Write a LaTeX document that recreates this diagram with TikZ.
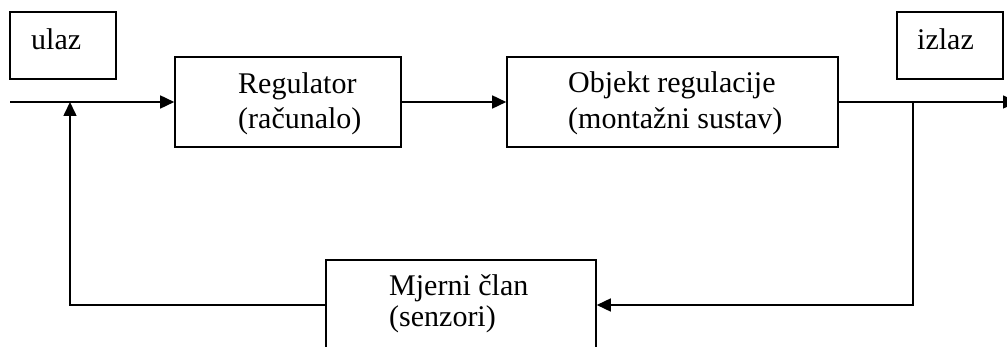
\documentclass[tikz,border=0pt]{standalone}
\usepackage{fontspec}
\setmainfont{Liberation Serif}
\usetikzlibrary{arrows.meta}
\begin{document}
\begin{tikzpicture}[x=1pt,y=-1pt,
  box/.style={draw,line width=1.6pt,inner sep=0pt},
  lbl/.style={anchor=base west,inner sep=0pt,font=\fontsize{30}{35}\selectfont},
  conn/.style={line width=1.6pt},
  tip/.style={-{Triangle[length=14pt,width=13pt]}}]
\useasboundingbox (0,0) rectangle (1007,347);
% boxes
\node[box,minimum width=106pt,minimum height=67pt] (ulaz) at (63,45.5) {};
\node[box,minimum width=106pt,minimum height=67pt] (izlaz) at (950,45.5) {};
\node[box,minimum width=226pt,minimum height=90pt] (reg) at (288,102) {};
\node[box,minimum width=331pt,minimum height=90pt] (obj) at (672.5,102) {};
\node[box,minimum width=270pt,minimum height=120pt] (mj) at (461,320) {};
% texts
\node[lbl] (tulaz) at (31,50) {ulaz};
\node[lbl] (tizlaz) at (917,50) {izlaz};
\node[lbl] (treg1) at (238,94) {Regulator};
\node[lbl] (treg2) at (238,129) {(računalo)};
\node[lbl] (tobj1) at (568,93) {Objekt regulacije};
\node[lbl] (tobj2) at (568,129) {(montažni sustav)};
\node[lbl] (tmj1) at (389,296) {Mjerni član};
\node[lbl] (tmj2) at (389,327) {(senzori)};
% coordinates
\coordinate (in) at (10,102);
\coordinate (sum) at (70,102);
\coordinate (br) at (913,102);
\coordinate (fbr) at (913,305);
\coordinate (outend) at (1017,102);
% connectors
\draw[conn,tip] (in) -- (reg.west);
\draw[conn,tip] (reg.east) -- (obj.west);
\draw[conn,tip] (obj.east) -- (outend);
\draw[conn,tip] (br) -- (fbr) -- (mj.east |- fbr);
\draw[conn,tip] (mj.west |- fbr) -| (sum);
\end{tikzpicture}
\end{document}
